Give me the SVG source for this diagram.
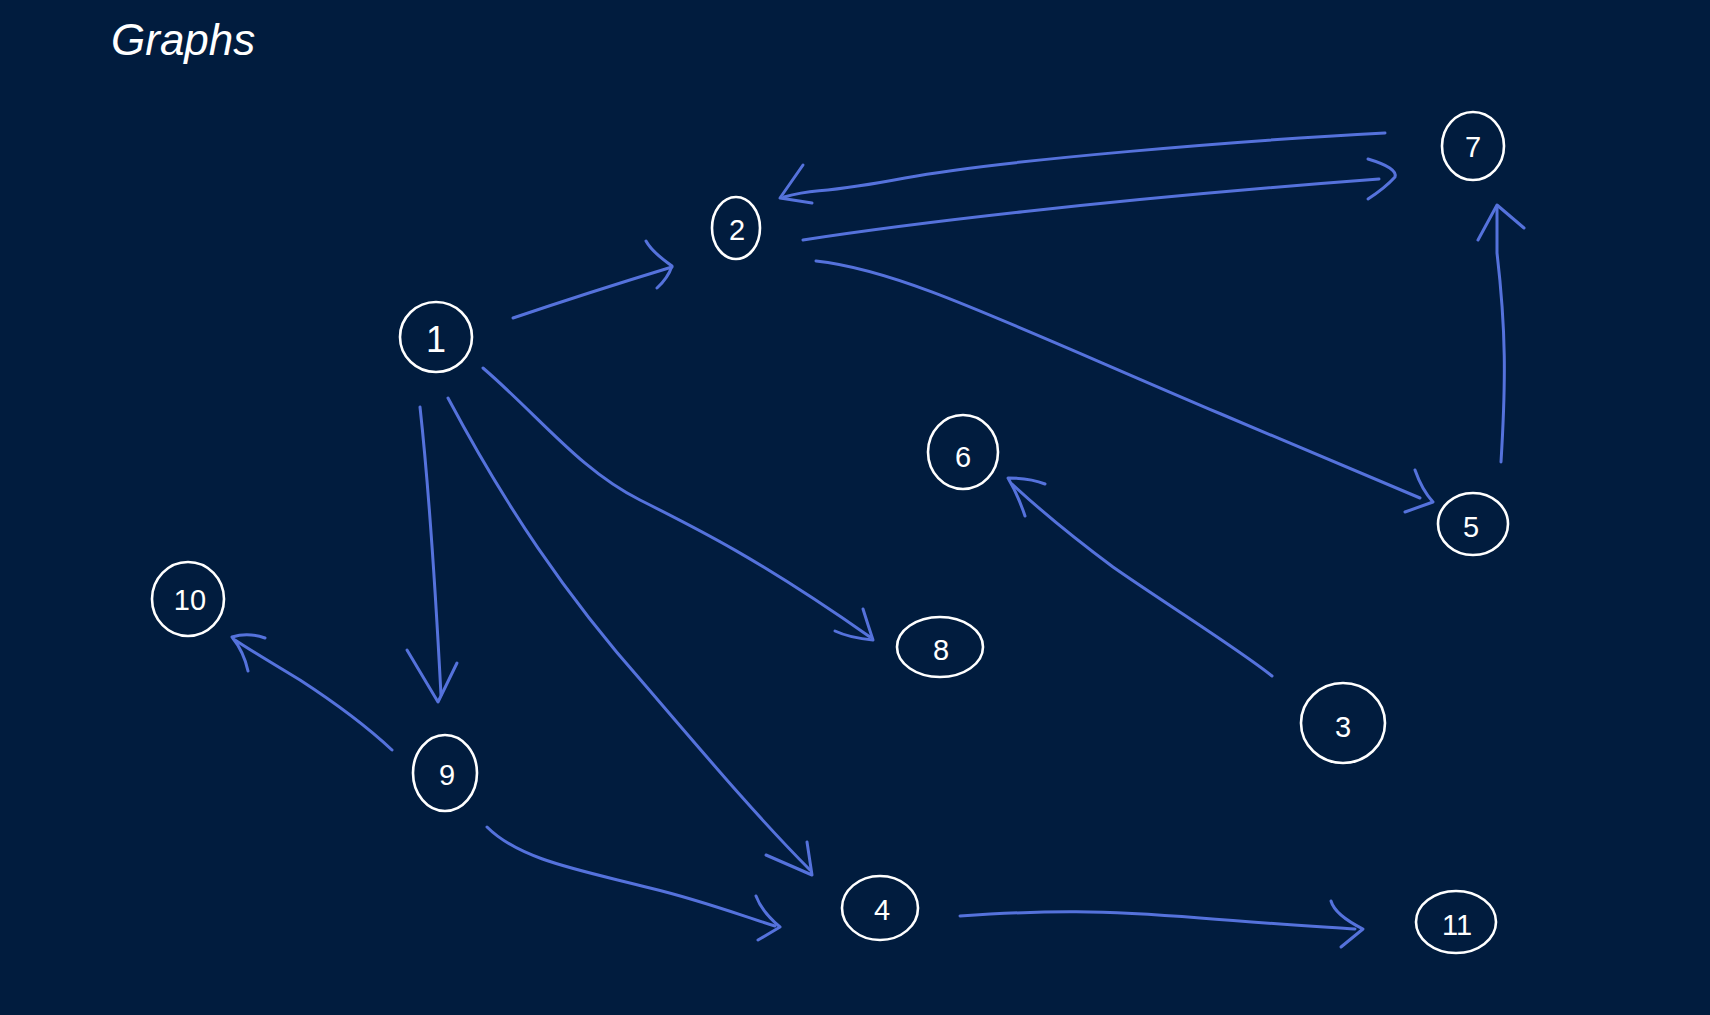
<svg xmlns="http://www.w3.org/2000/svg" width="1710" height="1015" viewBox="0 0 1710 1015">
<style>
.node ellipse{fill:none;stroke:#ffffff;stroke-width:2.6}
.node text{fill:#ffffff;font-family:"Liberation Sans","DejaVu Sans",sans-serif;font-size:29px;text-anchor:middle;dominant-baseline:central}
.edge{fill:none;stroke:#5572dc;stroke-width:3;stroke-linecap:round;stroke-linejoin:round}
.title{fill:#ffffff;font-family:"Liberation Sans",Arial,sans-serif;font-style:italic;font-size:44px}
</style>
<rect width="1710" height="1015" fill="#011c3e"/>
<text class="title" x="111" y="55">Graphs</text>
<g id="connectors">
<path class="edge" d="M513,318 Q590,292 672,267"/>
<path class="edge" d="M646,241 Q652,252 672,266 Q668,278 657,288"/>
<path class="edge" d="M1385,133 C1250,140 1000,160 905,178 S820,187 784,197"/>
<path class="edge" d="M803,165 L780,198 L812,203"/>
<path class="edge" d="M803,240 C900,225 1100,200 1379,179"/>
<path class="edge" d="M1368,159 Q1398,168 1395,177 Q1385,188 1368,199"/>
<path class="edge" d="M816,261 C900,270 1000,320 1221,414 Q1330,460 1420,498"/>
<path class="edge" d="M1415,470 Q1422,490 1433,502 L1405,512"/>
<path class="edge" d="M1501,462 C1506,380 1506,330 1497,253 L1497,207"/>
<path class="edge" d="M1478,240 L1497,205 L1524,228"/>
<path class="edge" d="M420,407 C428,480 436,600 441,695"/>
<path class="edge" d="M407,650 L438,702 L457,663"/>
<path class="edge" d="M392,750 C360,720 320,693 300,680 C270,662 250,650 235,640"/>
<path class="edge" d="M265,638 Q248,632 232,637 Q244,652 248,671"/>
<path class="edge" d="M483,368 C540,417 580,470 640,500 C700,530 760,560 870,637"/>
<path class="edge" d="M863,609 Q868,625 873,640 Q850,638 835,631"/>
<path class="edge" d="M448,398 C505,505 565,595 645,685 C705,755 760,820 810,870"/>
<path class="edge" d="M807,842 L812,875 L766,855"/>
<path class="edge" d="M487,827 C520,860 580,870 650,888 C700,900 740,915 775,926"/>
<path class="edge" d="M756,896 Q762,912 780,927 L758,940"/>
<path class="edge" d="M960,916 C1050,910 1100,910 1200,918 C1260,923 1310,926 1355,929"/>
<path class="edge" d="M1331,901 Q1335,915 1363,929 L1341,947"/>
<path class="edge" d="M1272,676 C1240,650 1160,600 1113,567 C1070,535 1040,510 1012,484"/>
<path class="edge" d="M1045,484 Q1030,478 1008,478 Q1018,495 1025,516"/>
</g>
<g id="node1" class="node"><ellipse cx="436" cy="337" rx="36" ry="35"/><text x="436" y="339" style="font-size:36px">1</text></g>
<g id="node2" class="node"><ellipse cx="736" cy="228" rx="24" ry="31"/><text x="737" y="230">2</text></g>
<g id="node7" class="node"><ellipse cx="1473" cy="146" rx="31" ry="34"/><text x="1473" y="147">7</text></g>
<g id="node5" class="node"><ellipse cx="1473" cy="524" rx="35" ry="31"/><text x="1471" y="527">5</text></g>
<g id="node10" class="node"><ellipse cx="188" cy="599" rx="36" ry="37"/><text x="190" y="600">10</text></g>
<g id="node9" class="node"><ellipse cx="445" cy="773" rx="32" ry="38"/><text x="447" y="775">9</text></g>
<g id="node6" class="node"><ellipse cx="963" cy="452" rx="35" ry="37"/><text x="963" y="457">6</text></g>
<g id="node8" class="node"><ellipse cx="940" cy="647" rx="43" ry="30"/><text x="941" y="650">8</text></g>
<g id="node3" class="node"><ellipse cx="1343" cy="723" rx="42" ry="40"/><text x="1343" y="727">3</text></g>
<g id="node4" class="node"><ellipse cx="880" cy="908" rx="38" ry="32"/><text x="882" y="910">4</text></g>
<g id="node11" class="node"><ellipse cx="1456" cy="922" rx="40" ry="31"/><text x="1457" y="925">11</text></g>
</svg>
